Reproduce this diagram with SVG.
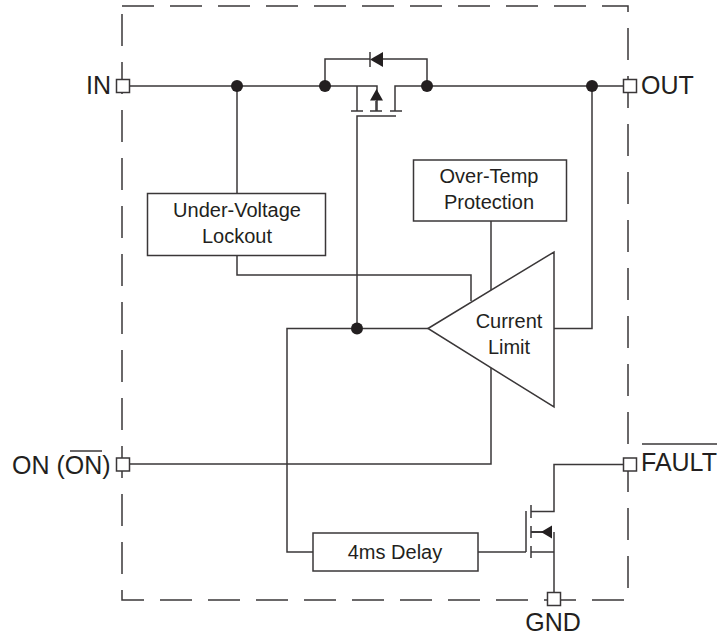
<svg xmlns="http://www.w3.org/2000/svg" width="717" height="638" viewBox="0 0 717 638">
<style>
.w{fill:none;stroke:#3a3738;stroke-width:1.5}
.b{fill:#fff;stroke:#3a3738;stroke-width:1.5}
.d{fill:#231f20;stroke:none}
.o{fill:none;stroke:#3a3738;stroke-width:1.5;stroke-dasharray:32 16}
.t{font-family:"Liberation Sans",Arial,sans-serif;font-size:20px;fill:#231f20;text-anchor:middle}
.p{font-family:"Liberation Sans",Arial,sans-serif;font-size:25px;fill:#231f20}
</style>
<rect width="717" height="638" fill="#fff"/>
<g id="outline">
<path class="o" d="M122 6H602"/>
<path class="w" d="M602 6H628V12"/>
<path class="o" d="M628 28V588"/>
<path class="o" d="M624 600H144"/>
<path class="w" d="M144 600H122V590"/>
<path class="o" d="M122 14V574"/>
</g>
<g id="connectors">
<path class="w" d="M130 86H377V111"/>
<path class="w" d="M357 86V111"/>
<path class="w" d="M395 111V86H623"/>
<path class="w" d="M325 86V59H370M383 59H427V86"/>
<path class="w" d="M357 328V116H396"/>
<path class="w" d="M237 86V193"/>
<path class="w" d="M237 255V275H471V301"/>
<path class="w" d="M491 221V290"/>
<path class="w" d="M428 328.500H287V552H313"/>
<path class="w" d="M554 328.500H592V86"/>
<path class="w" d="M129 464H491V368"/>
<path class="w" d="M478 552H526"/>
<path class="w" d="M526 511V552"/>
<path class="w" d="M531 511.500H554V464.500H623"/>
<path class="w" d="M531 552H554"/>
<path class="w" d="M554 532V592"/>
<path class="w" style="stroke-width:2" d="M531 532H545"/>
<path class="w" d="M351 111H363M370 111H382M390 111H402"/>
<path class="w" d="M376 101V111"/>
<path class="w" d="M531 505V518M531 526V538M531 546V558"/>
<path class="d" d="M370 100.500L376.500 89L383 100.500Z"/>
<path class="d" d="M541 532L552 525.500V538.500Z"/>
<path class="d" d="M370 59.500L383 52V67Z"/>
<path class="w" d="M370 52V67"/>
<circle class="d" cx="237" cy="86" r="6"/>
<circle class="d" cx="325" cy="86" r="6"/>
<circle class="d" cx="427" cy="86" r="6"/>
<circle class="d" cx="592" cy="86" r="6"/>
<circle class="d" cx="357" cy="328.500" r="6"/>
</g>
<g id="in"><rect class="b" x="116.500" y="79.500" width="13" height="13"/><text class="p" x="86" y="93.500">IN</text></g>
<g id="out"><rect class="b" x="623.500" y="79.500" width="13" height="13"/><text class="p" x="641" y="93.500">OUT</text></g>
<g id="on"><rect class="b" x="116.500" y="458" width="13" height="13"/><text class="p" x="12" y="474">ON (ON)</text><path class="w" d="M70 451H102"/></g>
<g id="fault"><rect class="b" x="623.500" y="458" width="13" height="13"/><text class="p" x="641" y="471">FAULT</text><path class="w" d="M642 444H717"/></g>
<g id="gnd"><rect class="b" x="547.500" y="592.500" width="13" height="13"/><text class="p" x="553" y="631" text-anchor="middle">GND</text></g>
<g id="uvlo"><rect class="b" x="147.500" y="193.500" width="178" height="62"/><text class="t" x="237" y="217">Under-Voltage</text><text class="t" x="237" y="243">Lockout</text></g>
<g id="otp"><rect class="b" x="413.500" y="160" width="153" height="61"/><text class="t" x="489" y="183">Over-Temp</text><text class="t" x="489" y="209">Protection</text></g>
<g id="current-limit"><path class="b" d="M428 328.500L554 252V407Z"/><text class="t" x="509" y="328">Current</text><text class="t" x="509" y="354">Limit</text></g>
<g id="delay"><rect class="b" x="313" y="533" width="165" height="38"/><text class="t" x="395" y="559">4ms Delay</text></g>
</svg>
